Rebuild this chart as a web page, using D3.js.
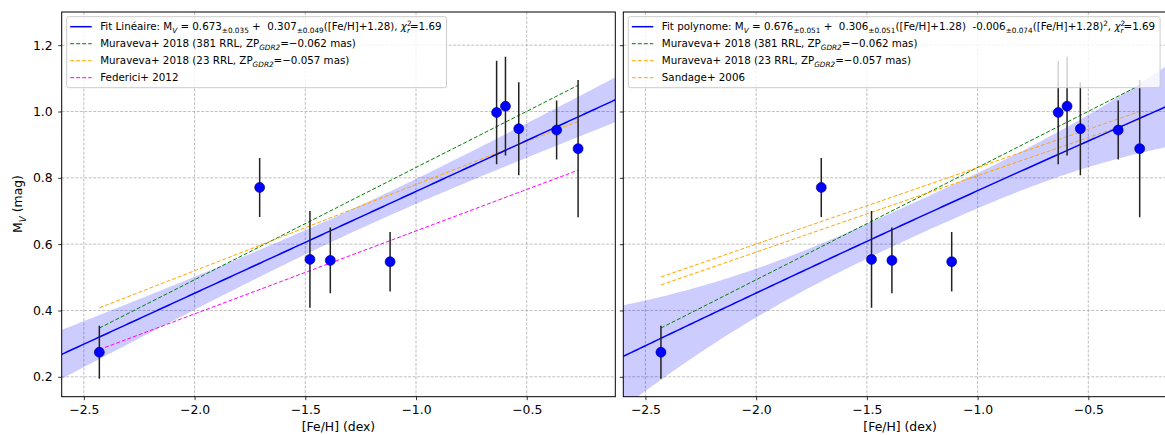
<!DOCTYPE html>
<html><head><meta charset="utf-8">
<script src="https://cdn.jsdelivr.net/npm/d3@7/dist/d3.min.js"></script>
<style>body{margin:0;background:#fff} text{font-family:"DejaVu Sans",sans-serif;white-space:pre}</style>
</head><body><svg id="c" width="1165" height="435" xmlns="http://www.w3.org/2000/svg"></svg>
<script>
// ---------- data ----------
const feh   = [-2.43, -1.706, -1.479, -1.387, -1.117, -0.636, -0.596, -0.536, -0.365, -0.268];
const mV    = [0.274, 0.771, 0.554, 0.551, 0.547, 0.997, 1.016, 0.948, 0.944, 0.888];
const mVerr = [0.080, 0.089, 0.146, 0.099, 0.090, 0.156, 0.149, 0.140, 0.089, 0.207];

const xTicks = [-2.5, -2.0, -1.5, -1.0, -0.5];
const yTicks = [0.2, 0.4, 0.6, 0.8, 1.0, 1.2];

// fit coefficients shown in the legends
const linFit  = [0.673, 0.307];        const linErr  = [0.035, 0.049];
const polyFit = [0.676, 0.306, -0.006]; const polyErr = [0.051, 0.051, 0.074];
const fehPivot = 1.28;

// literature relations (end points)
const muraveva381 = [[-2.43, 0.347], [-0.268, 1.079]];
const muraveva23  = [[-2.43, 0.408], [-0.268, 0.970]];
const federici    = [[-2.43, 0.282], [-0.268, 0.823]];
const muraveva23R = [[-2.43, 0.501], [-0.268, 1.000]];
const sandage     = [[-2.43, 0.477], [-0.268, 0.975]];

// ---------- drawing ----------
const FONT = '"DejaVu Sans", sans-serif';
const svg = d3.select('#c');
const xDomain = [-2.6, -0.1], yDomain = [0.14, 1.30];
const yTop = 12, yBot = 396.7;
const y = d3.scaleLinear().domain(yDomain).range([yBot, yTop]);
const fmt = d => d3.format('.1f')(d).replace('-', '\u2212');

const legL = [
  {color:'blue', dash:null, segs:[['Fit Linéaire: M','n'],['V','subi'],[' = 0.673','n'],['±0.035','sub'],[' +  0.307','n'],['±0.049','sub'],['([Fe/H]+1.28), ','n'],['χ','i'],['2','sup'],['r','stack'],['=1.69','n']]},
  {color:'green', dash:'4,2', segs:[['Muraveva+ 2018 (381 RRL, ZP','n'],['GDR2','subi'],['=−0.062 mas)','n']]},
  {color:'orange', dash:'4,2', segs:[['Muraveva+ 2018 (23 RRL, ZP','n'],['GDR2','subi'],['=−0.057 mas)','n']]},
  {color:'#ff00ff', dash:'4,2', segs:[['Federici+ 2012','n']]}
];
const legR = [
  {color:'blue', dash:null, segs:[['Fit polynome: M','n'],['V','subi'],[' = 0.676','n'],['±0.051','sub'],[' +  0.306','n'],['±0.051','sub'],['([Fe/H]+1.28)  -0.006','n'],['±0.074','sub'],['([Fe/H]+1.28)','n'],['2','sup'],[', ','n'],['χ','i'],['2','sup'],['r','stack'],['=1.69','n']]},
  {color:'green', dash:'4,2', segs:[['Muraveva+ 2018 (381 RRL, ZP','n'],['GDR2','subi'],['=−0.062 mas)','n']]},
  {color:'orange', dash:'4,2', segs:[['Muraveva+ 2018 (23 RRL, ZP','n'],['GDR2','subi'],['=−0.057 mas)','n']]},
  {color:'orange', dash:'4,2', segs:[['Sandage+ 2006','n']]}
];

const panels = [
  {x0:61.7, x1:615.3, fit:'lin', lines:[[muraveva381,'green'],[muraveva23,'orange'],[federici,'#ff00ff']], legend:legL, ylab:true},
  {x0:623.3, x1:1176.9, fit:'poly', lines:[[muraveva381,'green'],[muraveva23R,'orange'],[sandage,'orange']], legend:legR, ylab:false}
];

function richText(sel, segs, fs){
  let cur = 0;
  segs.forEach(([t, m]) => {
    let target = 0, size = fs, italic = false, dx = 0;
    if (m === 'sub' || m === 'subi') { target = 0.3*fs; size = 0.71*fs; italic = m === 'subi'; }
    else if (m === 'sup') { target = -0.4*fs; size = 0.71*fs; }
    else if (m === 'stack') { target = 0.3*fs; size = 0.71*fs; italic = true; dx = -0.45*fs; }
    else if (m === 'i') italic = true;
    const ts = sel.append('tspan').text(t).attr('font-size', size).attr('dy', target - cur).attr('font-family', FONT);
    if (dx) ts.attr('dx', dx);
    if (italic) ts.attr('font-style', 'italic');
    cur = target;
  });
}

panels.forEach((p, pi) => {
  const x = d3.scaleLinear().domain(xDomain).range([p.x0, p.x1]);
  const g = svg.append('g');
  const cid = 'clip' + pi;
  svg.append('clipPath').attr('id', cid).append('rect')
    .attr('x', p.x0).attr('y', yTop).attr('width', p.x1 - p.x0).attr('height', yBot - yTop);

  // grid
  g.append('g').selectAll('line').data(xTicks).join('line')
    .attr('x1', d => x(d)).attr('x2', d => x(d)).attr('y1', yTop).attr('y2', yBot)
    .attr('stroke', '#b0b0b0').attr('stroke-width', 0.8).attr('stroke-dasharray', '3,1.5');
  g.append('g').selectAll('line').data(yTicks).join('line')
    .attr('x1', p.x0).attr('x2', p.x1).attr('y1', d => y(d)).attr('y2', d => y(d))
    .attr('stroke', '#b0b0b0').attr('stroke-width', 0.8).attr('stroke-dasharray', '3,1.5');

  const plot = g.append('g').attr('clip-path', `url(#${cid})`);
  const xs = d3.range(0, 201).map(i => xDomain[0] + (xDomain[1] - xDomain[0]) * i / 200);
  const model = v => {
    const t = v + fehPivot;
    if (p.fit === 'lin') return [linFit[0] + linFit[1]*t, Math.hypot(linErr[0], linErr[1]*t)];
    return [polyFit[0] + polyFit[1]*t + polyFit[2]*t*t, Math.hypot(polyErr[0], polyErr[1]*t, polyErr[2]*t*t)];
  };
  const band = xs.map(v => { const [m, s] = model(v); return {v, lo: m - s, hi: m + s, m}; });
  plot.append('path').datum(band)
    .attr('d', d3.area().x(d => x(d.v)).y0(d => y(d.lo)).y1(d => y(d.hi)))
    .attr('fill', '#0000ff').attr('fill-opacity', 0.2);

  p.lines.forEach(([pts, c]) => {
    plot.append('path').datum(pts)
      .attr('d', d3.line().x(d => x(d[0])).y(d => y(d[1])))
      .attr('fill', 'none').attr('stroke', c).attr('stroke-width', 1).attr('stroke-dasharray', '4,2');
  });
  plot.append('path').datum(band)
    .attr('d', d3.line().x(d => x(d.v)).y(d => y(d.m)))
    .attr('fill', 'none').attr('stroke', '#0000ff').attr('stroke-width', 1.5);

  const pts = feh.map((v, i) => ({v, m: mV[i], e: mVerr[i]}));
  plot.append('g').selectAll('line').data(pts).join('line')
    .attr('x1', d => x(d.v)).attr('x2', d => x(d.v))
    .attr('y1', d => y(d.m - d.e)).attr('y2', d => y(d.m + d.e))
    .attr('stroke', '#222').attr('stroke-width', 1.5);
  plot.append('g').selectAll('circle').data(pts).join('circle')
    .attr('cx', d => x(d.v)).attr('cy', d => y(d.m)).attr('r', 5)
    .attr('fill', '#0000ff').attr('stroke', '#00007a').attr('stroke-width', 0.6);

  g.append('rect').attr('x', p.x0).attr('y', yTop).attr('width', p.x1 - p.x0).attr('height', yBot - yTop)
    .attr('fill', 'none').attr('stroke', '#000').attr('stroke-width', 1);

  const ax = g.append('g').attr('transform', `translate(0,${yBot})`)
    .call(d3.axisBottom(x).tickValues(xTicks).tickFormat(fmt).tickSize(3.5).tickPadding(5.5));
  const ay = g.append('g').attr('transform', `translate(${p.x0},0)`)
    .call(d3.axisLeft(y).tickValues(yTicks).tickFormat(p.ylab ? d3.format('.1f') : () => '').tickSize(3.5).tickPadding(5.5));
  [ax, ay].forEach(a => {
    a.attr('font-family', FONT);
    a.select('.domain').remove();
    a.selectAll('line').attr('stroke', '#000').attr('stroke-width', 0.8);
    a.selectAll('text').attr('font-size', 12.4).attr('fill', '#000').attr('font-family', FONT);
  });

  g.append('text').attr('x', (p.x0 + p.x1) / 2).attr('y', 431).attr('text-anchor', 'middle')
    .attr('font-family', FONT).attr('font-size', 12.4).text('[Fe/H] (dex)');
  if (p.ylab) {
    const t = g.append('text').attr('transform', 'translate(22,204) rotate(-90)').attr('text-anchor', 'middle').attr('font-size', 12.4).attr('font-family', FONT);
    richText(t, [['M','n'],['V','subi'],[' (mag)','n']], 12.4);
  }

  const lg = svg.append('g');
  const bx = p.x0 + 5, by = 16.7, rowH = 17, fs = 10.3;
  const box = lg.append('rect');
  let maxW = 0;
  p.legend.forEach((e, i) => {
    const cy = by + 10 + i * rowH;
    lg.append('line').attr('x1', bx + 3.5).attr('x2', bx + 25).attr('y1', cy).attr('y2', cy)
      .attr('stroke', e.color).attr('stroke-width', e.dash ? 1 : 1.5).attr('stroke-dasharray', e.dash);
    const t = lg.append('text').attr('x', bx + 33.5).attr('y', cy + 3.7).attr('font-size', fs).attr('font-family', FONT).attr('fill', '#000');
    richText(t, e.segs, fs);
    maxW = Math.max(maxW, t.node().getBBox().width);
  });
  box.attr('x', bx).attr('y', by).attr('rx', 2).attr('width', 33.5 + maxW + 5).attr('height', 4 * rowH + 3)
    .attr('fill', '#fff').attr('fill-opacity', 0.8).attr('stroke', '#cccccc').attr('stroke-width', 1);
});
</script></body></html>
